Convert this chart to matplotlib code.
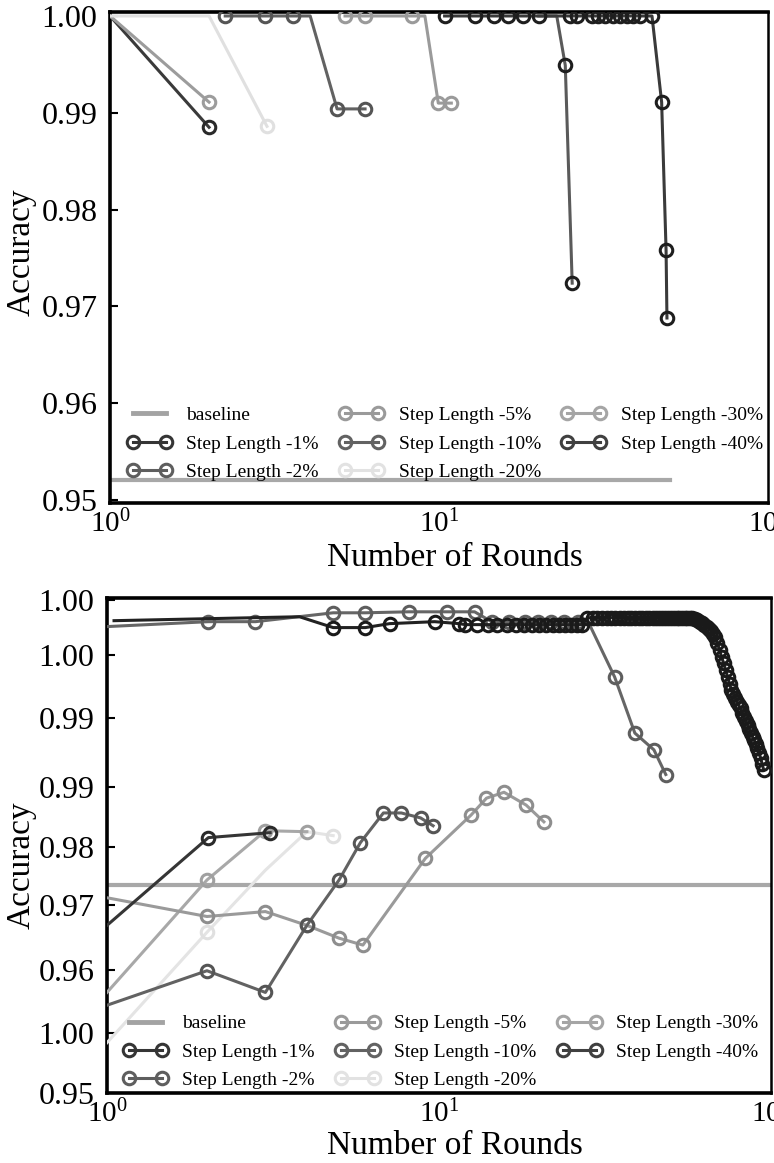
import matplotlib
matplotlib.use("Agg")
import matplotlib.pyplot as plt
from matplotlib.lines import Line2D

plt.rcParams['font.family'] = ['Liberation Serif', 'DejaVu Serif']
plt.rcParams['mathtext.fontset'] = 'custom'
plt.rcParams['mathtext.rm'] = 'Liberation Serif'
plt.rcParams['mathtext.it'] = 'Liberation Serif:italic'

# ---------------- legend ----------------
legend_labels = ['baseline', 'Step Length -1%', 'Step Length -2%',
                 'Step Length -5%', 'Step Length -10%', 'Step Length -20%',
                 'Step Length -30%', 'Step Length -40%']
legend_colors = ['#a3a3a3', '#353535', '#5e5e5e', '#9a9a9a', '#626262',
                 '#e2e2e2', '#a5a5a5', '#404040']

# ---------------- top panel data ----------------
top_baseline_x = [1, 50.5]
top_baseline_y = [0.9521, 0.9521]

top_s1_x = [1, 2]
top_s1_y = [1.0, 0.9885]
top_s2_x = [1, 2]
top_s2_y = [1.0, 0.9911]
top_s20_x = [1, 2, 3]
top_s20_y = [1.0, 1.0, 0.9886]
top_s10_x = [2.24, 2.95, 3.6, 4.06, 4.9, 5.96]
top_s10_y = [1.0, 1.0, 1.0, 1.0, 0.9904, 0.9904]
top_s5_x = [5.18, 5.96, 8.28, 9.06, 9.95, 10.9]
top_s5_y = [1.0, 1.0, 1.0, 1.0, 0.9910, 0.9910]
top_s30_x = [20.1, 22.8, 24.2, 25.4]
top_s30_y = [1.0, 1.0, 0.9949, 0.9724]
top_s40_x = [10.4, 12.9, 14.7, 16.2, 18.0, 20.1, 25.0, 26.3, 29.2, 30.4,
             32.0, 33.8, 35.5, 37.3, 38.9, 40.8, 44.4, 47.5, 49.0, 49.3]
top_s40_y = [1.0, 1.0, 1.0, 1.0, 1.0, 1.0, 1.0, 1.0, 1.0, 1.0,
             1.0, 1.0, 1.0, 1.0, 1.0, 1.0, 1.0, 0.9911, 0.9758, 0.9688]

top_yticks = [0.95, 0.96, 0.97, 0.98, 0.99, 1.00]
top_yticklabels = ['0.95', '0.96', '0.97', '0.98', '0.99', '1.00']

# ---------------- bottom panel data ----------------
bot_baseline_x = [1, 100]
bot_baseline_y = [0.9711, 0.9711]

bot_s1_x = [1, 2.02, 3.1]
bot_s1_y = [0.9670, 0.9759, 0.9764]
bot_s30_x = [1, 2, 3, 4]
bot_s30_y = [0.9602, 0.9716, 0.9766, 0.9765]
bot_s20_x = [1, 2, 3, 4, 4.8]
bot_s20_y = [0.9551, 0.9663, 0.9726, 0.9765, 0.9761]
bot_s5_x = [1, 2, 3, 4, 5, 5.9, 9.1, 12.5, 13.9, 15.7, 18.3, 20.7]
bot_s5_y = [0.9698, 0.9679, 0.9684, 0.9670, 0.9657, 0.9650, 0.9738,
            0.9782, 0.9799, 0.9805, 0.9792, 0.9775]
bot_s10_x = [1, 2, 3, 4, 5, 5.8, 6.8, 7.7, 8.8, 9.6]
bot_s10_y = [0.9589, 0.9624, 0.9602, 0.9670, 0.9716, 0.9754, 0.9784,
             0.9784, 0.9779, 0.9771]
bot_s2_x = [1, 2.02, 2.8, 4.8, 6.0, 8.1, 10.6, 12.8, 14.4, 16.2, 18.1,
            19.9, 21.8, 23.8, 26.3, 28.5, 33.8, 38.9, 44.4, 48.2]
bot_s2_y = [0.9973, 0.9978, 0.9978, 0.9987, 0.9987, 0.9988, 0.9988,
            0.9988, 0.9978, 0.9978, 0.9978, 0.9978, 0.9978, 0.9978,
            0.9978, 0.9974, 0.9922, 0.9865, 0.9848, 0.9823]
bot_s40_x = [1.05, 3.8, 4.8, 6.0, 7.1, 9.7, 11.5,
             12, 13, 14, 15, 16, 17, 18, 19, 20, 21, 22, 23, 24, 25, 26, 27,
             28, 29, 30, 31, 32, 33, 34, 35, 36, 37, 38, 39, 40, 41, 42, 43,
             44, 45, 46, 47, 48, 49, 50, 51, 52, 53, 54, 55, 56, 57, 58,
             59, 60, 61, 62, 63, 64, 65, 66, 67, 68, 69, 70, 71, 72, 73, 74,
             75, 76, 77, 78, 79, 80, 81, 82, 83, 84, 85, 86, 87, 88, 89, 90,
             91, 92, 93, 94, 95]
bot_s40_y = [0.9979, 0.9983, 0.9972, 0.9972, 0.9976, 0.9978, 0.9976,
             0.9975, 0.9975, 0.9975, 0.9975, 0.9975, 0.9975, 0.9975, 0.9975,
             0.9975, 0.9975, 0.9975, 0.9975, 0.9975, 0.9975, 0.9975, 0.9975,
             0.9982, 0.9982, 0.9982, 0.9982, 0.9982, 0.9982, 0.9982, 0.9982,
             0.9982, 0.9982, 0.9982, 0.9982, 0.9982, 0.9982, 0.9982, 0.9982,
             0.9982, 0.9982, 0.9982, 0.9982, 0.9982, 0.9982, 0.9982, 0.9982,
             0.9982, 0.9982, 0.9982, 0.9982, 0.9982, 0.9982, 0.9982,
             0.9981, 0.9980, 0.9978, 0.9977, 0.9975, 0.9973, 0.9971, 0.9969,
             0.9966, 0.9962, 0.9956, 0.9949, 0.9942, 0.9936, 0.9929, 0.9922,
             0.9915, 0.9909, 0.9905, 0.9901, 0.9897, 0.9893, 0.9890, 0.9885,
             0.9881, 0.9877, 0.9873, 0.9869, 0.9865, 0.9861, 0.9858, 0.9854,
             0.9850, 0.9845, 0.9840, 0.9834, 0.9828]

bot_yticks = [0.95, 0.95609, 0.96247, 0.96907, 0.97495, 0.98103, 0.98803,
              0.99442, 1.0]
bot_yticklabels = ['0.95', '1.00', '0.96', '0.97', '0.98', '0.99', '0.99',
                   '1.00', '1.00']

LW = 2.2
MS = 9
MEW = 2.2


def draw(ax, x, y, line, edge, hidden=()):
    shown = [i for i in range(len(x)) if i not in hidden]
    ax.plot(x, y, '-', color=line, lw=LW, marker='o', ms=MS, mfc='none',
            mec=edge, mew=MEW, markevery=shown, zorder=3)


def style(ax, ylim, yticks, yticklabels, ylabel_pos, xlabel_y):
    ax.set_xscale('log')
    ax.set_xlim(1, 100)
    ax.set_ylim(*ylim)
    ax.set_xticks([1, 10, 100])
    ax.set_xticklabels([r'$10^0$', r'$10^1$', r'$10^2$'])
    ax.minorticks_off()
    ax.set_yticks(yticks)
    ax.set_yticklabels(yticklabels)
    ax.tick_params(axis='y', direction='in', length=6, width=1.5,
                   labelsize=23, pad=9)
    ax.tick_params(axis='x', length=0, labelsize=21, pad=5)
    for side in ('left', 'top', 'bottom'):
        ax.spines[side].set_linewidth(2.6)
    ax.spines['right'].set_linewidth(1.8)
    ax.set_xlabel('Number of Rounds', fontsize=24)
    ax.set_ylabel('Accuracy', fontsize=24)
    ax.xaxis.set_label_coords(0.524, xlabel_y)
    ax.yaxis.set_label_coords(*ylabel_pos)


def add_legend(ax, anchor):
    handles = [Line2D([], [], color=legend_colors[0], lw=3.5)]
    for c in legend_colors[1:]:
        handles.append(Line2D([], [], color=c, lw=LW, marker='o', ms=MS,
                              mfc='none', mec=c, mew=MEW))
    ax.legend(handles, legend_labels, ncol=3, loc='lower left',
              bbox_to_anchor=anchor, frameon=False, fontsize=14,
              numpoints=2, handlelength=2.3, handletextpad=0.75,
              columnspacing=1.05, labelspacing=0.55, borderaxespad=0,
              borderpad=0)


fig = plt.figure(figsize=(7.74, 11.63), dpi=100)

# ---- top panel ----
ax1 = fig.add_axes([0.14212, 0.56750, 0.85013, 0.42218])
ax1.plot(top_baseline_x, top_baseline_y, color='#a8a8a8', lw=3.0, zorder=2)
draw(ax1, top_s1_x, top_s1_y, '#3a3a3a', '#2a2a2a', hidden=(0,))
draw(ax1, top_s2_x, top_s2_y, '#9c9c9c', '#9c9c9c', hidden=(0,))
draw(ax1, top_s20_x, top_s20_y, '#e0e0e0', '#e0e0e0', hidden=(0, 1))
draw(ax1, top_s10_x, top_s10_y, '#626262', '#555555', hidden=(3,))
draw(ax1, top_s5_x, top_s5_y, '#9a9a9a', '#9a9a9a', hidden=(3,))
draw(ax1, top_s30_x, top_s30_y, '#5a5a5a', '#1e1e1e', hidden=(0, 1))
draw(ax1, top_s40_x, top_s40_y, '#3a3a3a', '#1e1e1e')
style(ax1, (0.94969, 1.00041), top_yticks, top_yticklabels,
      (-0.112, 0.51), -0.08)
add_legend(ax1, (0.026, 0.045))

# ---- bottom panel ----
ax2 = fig.add_axes([0.13824, 0.06019, 0.85788, 0.42562])
ax2.plot(bot_baseline_x, bot_baseline_y, color='#a8a8a8', lw=3.0, zorder=2)
draw(ax2, bot_s20_x, bot_s20_y, '#e4e4e4', '#e0e0e0', hidden=(0, 2, 3))
draw(ax2, bot_s30_x, bot_s30_y, '#a8a8a8', '#a0a0a0', hidden=(0,))
draw(ax2, bot_s5_x, bot_s5_y, '#9a9a9a', '#8e8e8e', hidden=(0,))
draw(ax2, bot_s10_x, bot_s10_y, '#626262', '#555555', hidden=(0,))
draw(ax2, bot_s1_x, bot_s1_y, '#353535', '#2a2a2a', hidden=(0,))
draw(ax2, bot_s2_x, bot_s2_y, '#666666', '#5e5e5e', hidden=(0, 15))
draw(ax2, bot_s40_x, bot_s40_y, '#222222', '#1a1a1a', hidden=(0, 1))
style(ax2, (0.95, 1.0002), bot_yticks, bot_yticklabels,
      (-0.106, 0.46), -0.076)
add_legend(ax2, (0.024, 0.008))

fig.savefig('out.png', dpi=100)
